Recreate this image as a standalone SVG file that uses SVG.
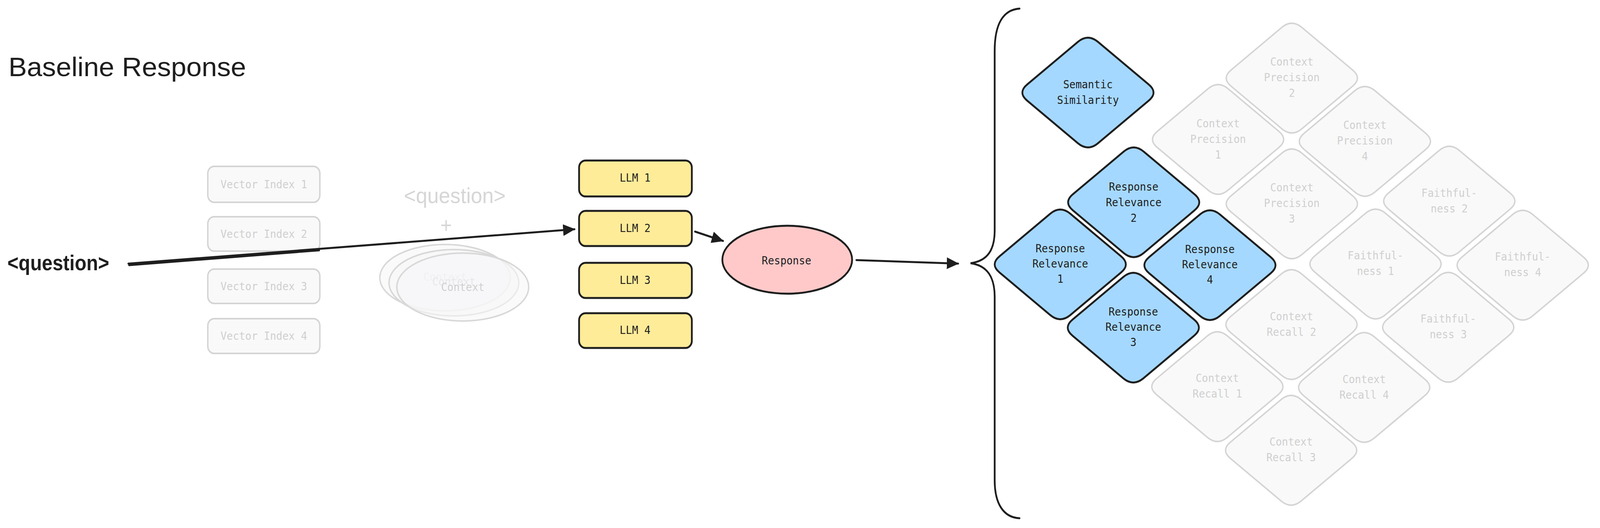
<svg xmlns="http://www.w3.org/2000/svg" width="4512" height="1352" viewBox="0 0 4512 1352">
<style>
.bg{fill:#ffffff}
.llm{fill:#ffec99;stroke:#1e1e1e;stroke-width:5}
.resp{fill:#ffc9c9;stroke:#1e1e1e;stroke-width:5}
.blue{fill:#a5d8ff;stroke:#1e1e1e;stroke-width:5}
.ghost{fill:#f9f9f9;stroke:#d4d4d4;stroke-width:4}
.ghostel{fill:#f6f7f8;fill-opacity:0.6;stroke:#d8d8d8;stroke-width:4}
.t{font-family:"DejaVu Sans Mono","Liberation Mono",monospace;font-size:29px;text-anchor:middle;dominant-baseline:central}
.tk{fill:#1e1e1e}
.tg{fill:#cfcfcf}
.hand{font-family:"Liberation Sans",Arial,sans-serif}
.conn{stroke:#1e1e1e;stroke-width:5;fill:none;stroke-linecap:round}
.arr{marker-end:url(#ah)}
</style>
<defs>
<marker id="ah" markerUnits="userSpaceOnUse" markerWidth="34" markerHeight="30" viewBox="0 0 34 30" refX="32" refY="15" orient="auto">
<path d="M0,0 L34,15 L0,30 Z" fill="#1e1e1e"/>
</marker>
<path id="dia" d="M28,-130 L171,-21 Q199,0 171,21 L28,130 Q0,151 -28,130 L-171,21 Q-199,0 -171,-21 L-28,-130 Q0,-151 28,-130 Z"/>
</defs>
<rect class="bg" x="0" y="0" width="4512" height="1352"/>
<g id="diagram" transform="scale(0.9078,1)">

<g id="title">
<text class="hand" x="24" y="195" font-size="68" fill="#1e1e1e" textLength="670" lengthAdjust="spacingAndGlyphs">Baseline Response</text>
</g>

<g id="question">
<text class="hand" x="21" y="692" font-size="56" fill="#1e1e1e" font-weight="bold" textLength="287" lengthAdjust="spacingAndGlyphs">&lt;question&gt;</text>
</g>

<g id="vector-index-1"><rect class="ghost" x="586" y="426" width="316" height="92" rx="18"/><text class="t tg" x="744" y="472">Vector Index 1</text></g>
<g id="vector-index-2"><rect class="ghost" x="586" y="555" width="316" height="88" rx="18"/><text class="t tg" x="744" y="599">Vector Index 2</text></g>
<g id="vector-index-3"><rect class="ghost" x="586" y="689" width="316" height="88" rx="18"/><text class="t tg" x="744" y="733">Vector Index 3</text></g>
<g id="vector-index-4"><rect class="ghost" x="586" y="816" width="316" height="89" rx="18"/><text class="t tg" x="744" y="860">Vector Index 4</text></g>

<g id="question-plus-context">
<text class="hand" x="1139" y="520" font-size="56" fill="#d6d6d6" textLength="287" lengthAdjust="spacingAndGlyphs">&lt;question&gt;</text>
<text class="hand" x="1258" y="596" font-size="56" fill="#d6d6d6" text-anchor="middle">+</text>
</g>
<g id="context-1"><ellipse class="ghostel" cx="1255" cy="711" rx="184" ry="85"/><text class="t tg" x="1255" y="709">Context</text></g>
<g id="context-2"><ellipse class="ghostel" cx="1280" cy="724" rx="183" ry="85"/><text class="t tg" x="1280" y="721">Context</text></g>
<g id="context-3"><ellipse class="ghostel" cx="1305" cy="735" rx="186" ry="87"/><text class="t tg" x="1305" y="735">Context</text></g>

<g id="llm-1"><rect class="llm" x="1633" y="411" width="318" height="92" rx="18"/><text class="t tk" x="1791" y="455">LLM 1</text></g>
<g id="llm-2"><rect class="llm" x="1633" y="540" width="318" height="90" rx="18"/><text class="t tk" x="1791" y="584">LLM 2</text></g>
<g id="llm-3"><rect class="llm" x="1633" y="673" width="318" height="90" rx="18"/><text class="t tk" x="1791" y="717">LLM 3</text></g>
<g id="llm-4"><rect class="llm" x="1633" y="802" width="318" height="89" rx="18"/><text class="t tk" x="1791" y="845">LLM 4</text></g>

<g id="response"><ellipse class="resp" cx="2220" cy="665" rx="183" ry="87"/><text class="t tk" x="2218" y="667">Response</text></g>

<g id="brace">
<path class="conn" d="M2875,22 C2830,25 2805,60 2805,130 L2805,590 C2805,640 2785,668 2737,674 C2785,680 2805,710 2805,760 L2805,1230 C2805,1290 2830,1325 2875,1327"/>
</g>

<g id="semantic-similarity"><use href="#dia" class="blue" transform="translate(3068,237)"/><text class="t tk" x="3068" y="216">Semantic</text><text class="t tk" x="3068" y="256">Similarity</text></g>

<g id="response-relevance-2"><use href="#dia" class="blue" transform="translate(3197,518)"/><text class="t tk" x="3197" y="478">Response</text><text class="t tk" x="3197" y="518">Relevance</text><text class="t tk" x="3197" y="558">2</text></g>
<g id="response-relevance-1"><use href="#dia" class="blue" transform="translate(2990,677)"/><text class="t tk" x="2990" y="636">Response</text><text class="t tk" x="2990" y="675">Relevance</text><text class="t tk" x="2990" y="714">1</text></g>
<g id="response-relevance-4"><use href="#dia" class="blue" transform="translate(3412,679)"/><text class="t tk" x="3412" y="638">Response</text><text class="t tk" x="3412" y="677">Relevance</text><text class="t tk" x="3412" y="716">4</text></g>
<g id="response-relevance-3"><use href="#dia" class="blue" transform="translate(3196,839)"/><text class="t tk" x="3196" y="798">Response</text><text class="t tk" x="3196" y="837">Relevance</text><text class="t tk" x="3196" y="876">3</text></g>

<g id="context-precision-2"><use href="#dia" class="ghost" transform="translate(3643,200)"/><text class="t tg" x="3643" y="158">Context</text><text class="t tg" x="3643" y="198">Precision</text><text class="t tg" x="3643" y="238">2</text></g>
<g id="context-precision-1"><use href="#dia" class="ghost" transform="translate(3435,357)"/><text class="t tg" x="3435" y="316">Context</text><text class="t tg" x="3435" y="356">Precision</text><text class="t tg" x="3435" y="396">1</text></g>
<g id="context-precision-4"><use href="#dia" class="ghost" transform="translate(3849,362)"/><text class="t tg" x="3849" y="320">Context</text><text class="t tg" x="3849" y="360">Precision</text><text class="t tg" x="3849" y="400">4</text></g>
<g id="context-precision-3"><use href="#dia" class="ghost" transform="translate(3643,522)"/><text class="t tg" x="3643" y="480">Context</text><text class="t tg" x="3643" y="520">Precision</text><text class="t tg" x="3643" y="560">3</text></g>

<g id="faithfulness-2"><use href="#dia" class="ghost" transform="translate(4087,515)"/><text class="t tg" x="4087" y="494">Faithful-</text><text class="t tg" x="4087" y="534">ness 2</text></g>
<g id="faithfulness-1"><use href="#dia" class="ghost" transform="translate(3879,676)"/><text class="t tg" x="3879" y="654">Faithful-</text><text class="t tg" x="3879" y="694">ness 1</text></g>
<g id="faithfulness-4"><use href="#dia" class="ghost" transform="translate(4294,679)"/><text class="t tg" x="4294" y="657">Faithful-</text><text class="t tg" x="4294" y="697">ness 4</text></g>
<g id="faithfulness-3"><use href="#dia" class="ghost" transform="translate(4084,838)"/><text class="t tg" x="4084" y="816">Faithful-</text><text class="t tg" x="4084" y="856">ness 3</text></g>

<g id="context-recall-2"><use href="#dia" class="ghost" transform="translate(3642,831)"/><text class="t tg" x="3642" y="810">Context</text><text class="t tg" x="3642" y="850">Recall 2</text></g>
<g id="context-recall-1"><use href="#dia" class="ghost" transform="translate(3433,990)"/><text class="t tg" x="3433" y="968">Context</text><text class="t tg" x="3433" y="1008">Recall 1</text></g>
<g id="context-recall-4"><use href="#dia" class="ghost" transform="translate(3847,992)"/><text class="t tg" x="3847" y="971">Context</text><text class="t tg" x="3847" y="1011">Recall 4</text></g>
<g id="context-recall-3"><use href="#dia" class="ghost" transform="translate(3641,1153)"/><text class="t tg" x="3641" y="1131">Context</text><text class="t tg" x="3641" y="1171">Recall 3</text></g>

<g id="connectors">
<path class="conn arr" d="M362,675 L1620,587"/>
<path class="conn" d="M364,679 L900,641" stroke-width="3"/>
<path class="conn arr" d="M1960,593 L2039,617"/>
<path class="conn arr" d="M2415,666 L2702,675"/>
</g>
</g>
</svg>
